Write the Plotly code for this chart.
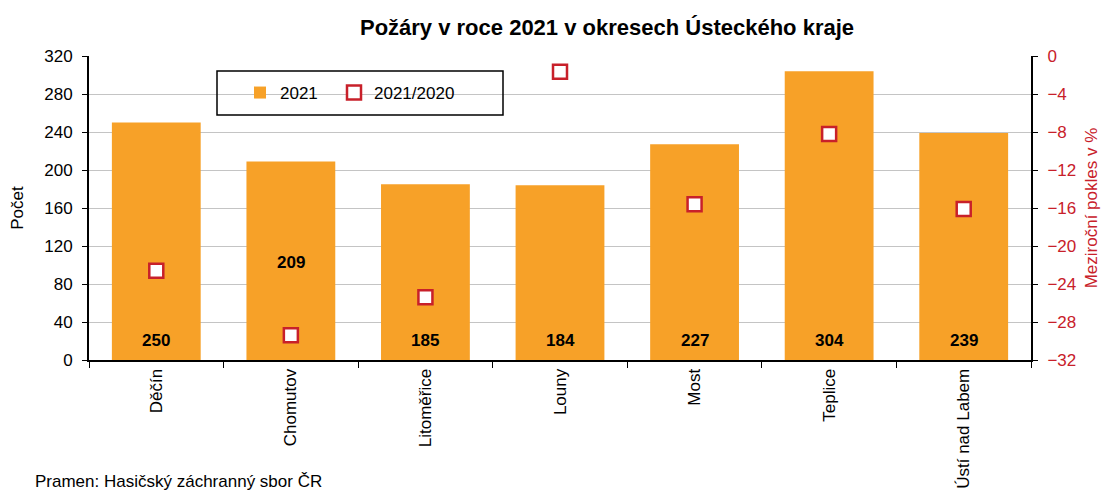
import plotly.graph_objects as go

districts = ["Děčín", "Chomutov", "Litoměřice", "Louny", "Most", "Teplice", "Ústí nad Labem"]
fires_2021 = [250, 209, 185, 184, 227, 304, 239]
change_pct = [-22.6, -29.4, -25.4, -1.65, -15.6, -8.2, -16.1]

title = "Požáry v roce 2021 v okresech Ústeckého kraje"
source = "Pramen: Hasičský záchranný sbor ČR"

BAR = "#F7A128"
RED = "#C8202A"
FONT = "Liberation Sans, Arial, sans-serif"
FS = 17

# plot area in page pixels (page has an 8px body margin)
PX0, PX1, PY0, PY1 = 89, 1031, 56, 360
W, H = 1103, 483


def px(x):
    return (x - PX0) / (PX1 - PX0)


def py(y):
    return (PY1 - y) / (PY1 - PY0)


fig = go.Figure()
fig.add_trace(go.Bar(
    x=districts, y=fires_2021, name="2021",
    marker=dict(color=BAR, line=dict(width=0)),
    width=0.66, yaxis="y", legend="legend",
))
fig.add_trace(go.Scatter(
    x=districts, y=change_pct, name="2021/2020", mode="markers",
    marker=dict(symbol="square", size=14, color="white", line=dict(color=RED, width=2.5)),
    yaxis="y2", legend="legend2",
))

# value labels inside bars
for d, v in zip(districts, fires_2021):
    ly = 103 if d == "Chomutov" else 21
    fig.add_annotation(x=d, y=ly, xref="x", yref="y", text=f"<b>{v}</b>",
                       showarrow=False, font=dict(size=FS, color="black", family=FONT))

fig.add_annotation(x=px(33), y=py(481), xref="paper", yref="paper", text=source,
                   showarrow=False, font=dict(size=FS, color="black", family=FONT),
                   xanchor="left", yanchor="middle")

leg_common = dict(orientation="h", xanchor="left", yanchor="middle",
                  bgcolor="rgba(0,0,0,0)", borderwidth=0, itemwidth=30,
                  font=dict(size=FS, family=FONT, color="black"))

fig.update_layout(
    width=W, height=H,
    margin=dict(l=PX0 - 8, r=W + 8 - PX1, t=PY0 - 8, b=H + 8 - PY1),
    paper_bgcolor="white", plot_bgcolor="white",
    font=dict(family=FONT, size=FS, color="black"),
    title=dict(text=f"<b>{title}</b>", x=(607 - 8) / W, xanchor="center",
               y=1 - (27 - 8) / H, yanchor="middle",
               font=dict(size=22, family=FONT, color="black")),
    bargap=0.34,
    showlegend=True,
    legend=dict(x=px(240), y=py(93), **leg_common),
    legend2=dict(x=px(334), y=py(93), **leg_common),
    xaxis=dict(
        type="category", tickson="boundaries", ticks="outside", ticklen=6, tickcolor="black",
        showline=True, linecolor="black", linewidth=2, tickangle=-90, mirror=False,
        tickfont=dict(size=FS, family=FONT, color="black"), showgrid=False, automargin=False,
    ),
    yaxis=dict(
        range=[0, 320], dtick=40, showgrid=True, gridcolor="#C4C4C4", gridwidth=1,
        showline=True, linecolor="black", linewidth=2, ticks="outside", ticklen=5, tickcolor="black",
        ticklabelstandoff=6,
        title=dict(text="Počet", font=dict(size=FS, family=FONT, color="black"), standoff=22),
        tickfont=dict(size=FS, family=FONT, color="black"), zeroline=False, automargin=False,
    ),
    yaxis2=dict(
        range=[-32, 0], dtick=4, overlaying="y", side="right", showgrid=False,
        showline=True, linecolor="black", linewidth=2, ticks="outside", ticklen=5, tickcolor="black",
        ticklabelstandoff=6,
        title=dict(text="Meziroční pokles v %", font=dict(size=FS, family=FONT, color=RED), standoff=10),
        tickfont=dict(size=FS, family=FONT, color=RED), zeroline=False, automargin=False,
    ),
    shapes=[dict(type="rect", xref="paper", yref="paper", x0=px(217), x1=px(503), y0=py(115), y1=py(71),
                 line=dict(color="black", width=1.5), fillcolor="rgba(0,0,0,0)", layer="above")],
)

fig.write_html("out.html")
